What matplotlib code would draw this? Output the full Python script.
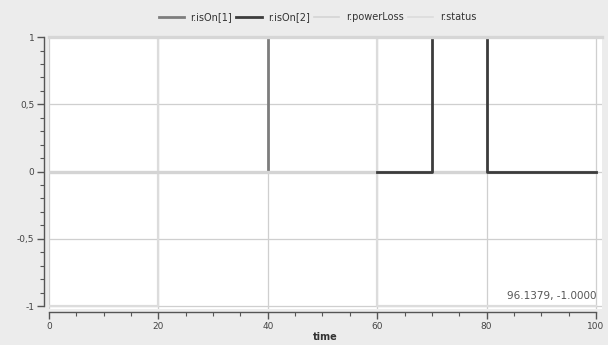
import matplotlib.pyplot as plt
from matplotlib.ticker import MultipleLocator, FuncFormatter

# step series (time, value)
t_on1 = [0, 40, 40, 100]
v_on1 = [0, 0, 1, 1]

t_on2 = [60, 70, 70, 80, 80, 100]
v_on2 = [0, 0, 1, 1, 0, 0]

t_loss = [0, 100]
v_loss = [0, 0]

t_status = [0, 20, 20, 60, 60, 100]
v_status = [-1, -1, 1, 1, -1, -1]

x_ticks = [0, 20, 40, 60, 80, 100]
y_ticks = [-1, -0.5, 0, 0.5, 1]

fig = plt.figure(figsize=(6.08, 3.45), dpi=100, facecolor='#ececec')
ax = fig.add_axes([0.0806, 0.1043, 0.9095, 0.788])
ax.set_facecolor('white')

ax.plot(t_on1, v_on1, color='#7d7d7d', lw=2, label='r.isOn[1]', zorder=3)
ax.plot(t_on2, v_on2, color='#3c3c3c', lw=2, label='r.isOn[2]', zorder=5)
ax.plot(t_loss, v_loss, color='#d4d4d4', lw=2.4, label='r.powerLoss', zorder=4)
ax.plot(t_status, v_status, color='#dcdcdc', lw=1.6, label='r.status', zorder=2)

ax.set_xlim(0, 101.1)
ax.set_ylim(-1.022, 1.0)

ax.set_xticks(x_ticks)
ax.set_yticks(y_ticks)
ax.xaxis.set_minor_locator(MultipleLocator(5))
ax.yaxis.set_minor_locator(MultipleLocator(0.1))
ax.yaxis.set_major_formatter(FuncFormatter(lambda v, p: ('%g' % v).replace('.', ',')))
ax.grid(True, which='major', color='#cfcfcf', lw=0.9, zorder=1)
ax.set_axisbelow(True)

ax.spines['right'].set_visible(False)
ax.spines['top'].set_color('#d6d6d6')
ax.spines['top'].set_linewidth(2.4)
ax.spines['top'].set_zorder(10)
ax.spines['left'].set_position(('outward', 3.6))
ax.spines['bottom'].set_position(('outward', 2.2))
ax.spines['left'].set_bounds(-1, 1)
ax.spines['bottom'].set_bounds(0, 100)
for s in ['left', 'bottom']:
    ax.spines[s].set_color('#555555')
    ax.spines[s].set_linewidth(1)

ax.tick_params(which='major', length=5, width=1, color='#555555',
               labelsize=6.5, labelcolor='#444444', pad=2)
ax.tick_params(which='minor', length=3, width=0.8, color='#555555')

ax.set_xlabel('time', fontsize=7, fontweight='bold', color='#333333', labelpad=1)

ax.text(0.99, 0.03, '96.1379, -1.0000', transform=ax.transAxes,
        ha='right', va='bottom', fontsize=7.5, color='#555555')

leg = fig.legend(loc='center', bbox_to_anchor=(0.522, 0.95), ncol=4, frameon=False,
                 fontsize=7, handlelength=2.6, columnspacing=0.4, handletextpad=0.7,
                 labelcolor='#333333')
leg.get_lines()[2].set_linewidth(1.2)
leg.get_lines()[3].set_linewidth(1.2)

fig.savefig('out.png', dpi=100, facecolor=fig.get_facecolor())
